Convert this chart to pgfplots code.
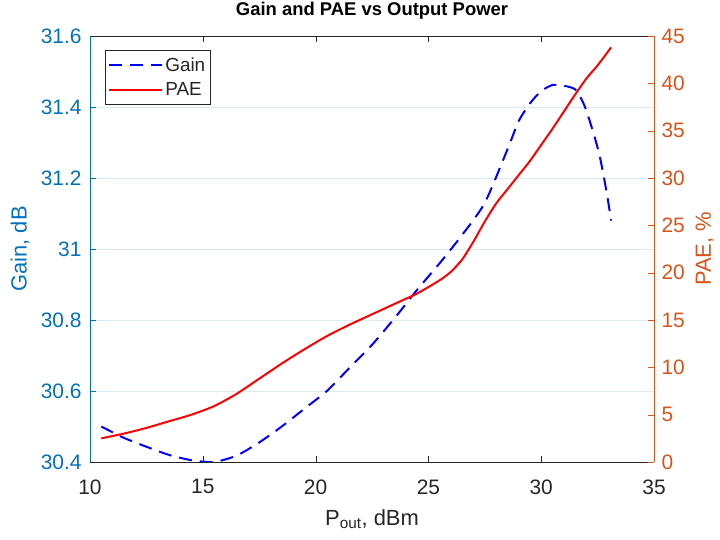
\documentclass[border=0pt]{standalone}
\usepackage{pgfplots}
\pgfplotsset{compat=1.18}
\usepackage{fontspec}
\setmainfont{Liberation Sans}
\definecolor{mblue}{RGB}{0,114,189}
\definecolor{morange}{RGB}{217,83,25}
\definecolor{mgray}{RGB}{38,38,38}
\definecolor{gridgray}{RGB}{220,220,220}
\definecolor{gridblue}{RGB}{218,234,246}

\pgfplotstableread{
x g
10.5 30.50
11.5 30.468
12.5 30.443
13.5 30.42
14.5 30.405
15.5 30.400
16.5 30.418
17.5 30.455
18.5 30.50
19.5 30.55
20.5 30.60
21.5 30.665
22.5 30.73
23.5 30.805
24.5 30.885
25.5 30.96
26.5 31.04
27.5 31.13
28.5 31.28
29.0 31.36
29.5 31.41
30.0 31.445
30.5 31.462
31.0 31.460
31.5 31.450
31.8 31.42
32.0 31.39
32.3 31.33
32.6 31.26
32.9 31.16
33.1 31.08
}\gaindata

\pgfplotstableread{
x p
10.5 2.5
11.5 3.0
12.5 3.6
13.5 4.3
14.5 5.0
15.5 5.9
16.5 7.2
17.5 8.8
18.5 10.4
19.5 11.9
20.5 13.3
21.5 14.5
22.5 15.6
23.5 16.7
24.5 17.8
25.5 19.2
26.0 20.1
26.5 21.4
27.0 23.3
27.5 25.4
28.0 27.3
28.5 28.8
29.0 30.3
29.5 31.8
30.0 33.5
30.5 35.2
31.0 37.0
31.5 38.8
32.0 40.5
32.5 41.9
33.1 43.8
}\paedata

\begin{document}
\begin{tikzpicture}
\pgfplotsset{
  common/.style={
    scale only axis, width=564bp, height=426bp,
    xmin=10, xmax=35,
    xtick={10,15,...,35},
    tick align=inside,
    major tick length=6bp,
    /pgf/number format/assume math mode=true,
    ticklabel style={font=\fontsize{21}{24}\selectfont},
    label style={font=\fontsize{22}{26}\selectfont},
  }
}
\begin{axis}[common, name=ax,
  ymin=30.4, ymax=31.6,
  ytick={30.4,30.6,...,31.61},
  axis y line*=left,
  x axis line style={mgray},
  y axis line style={mblue, line width=0.8pt},
  axis line style={line width=0.8pt},
  xtick pos=both,
  x tick style={mgray},
  y tick style={mblue},
  x tick label style={mgray, yshift=-14bp},
  y tick label style={mblue, /pgf/number format/fixed, xshift=-5bp},
  ymajorgrids, grid style={gridblue, line width=0.8pt},
  xlabel={P\textsubscript{out}, dBm},
  xlabel style={mgray, at={(axis description cs:0.5,-0.148)}, anchor=base},
  ylabel={Gain, dB},
  ylabel style={mblue, at={(axis description cs:-0.124,0.5)}, anchor=center},
  title={Gain and PAE vs Output Power},
  title style={font=\bfseries\fontsize{18.5}{20}\selectfont, at={(axis description cs:0.5,1.034)}, anchor=base},
  legend style={at={(axis description cs:0.0266,0.967)}, anchor=north west,
    draw=mgray, line width=0.6pt, font=\fontsize{19}{22}\selectfont, text=mgray,
    inner xsep=3bp, inner ysep=5bp, row sep=6bp, cells={anchor=west}},
  legend image code/.code={\draw[#1] (0bp,0bp) -- (53bp,0bp);},
]
\addplot[blue, line width=2pt, dash pattern=on 13bp off 8bp, smooth, tension=0.4] table[x=x,y=g] {\gaindata};
\addlegendentry{Gain}
\addlegendimage{red, line width=2pt}
\addlegendentry{PAE}
\end{axis}
\begin{axis}[common,
  ymin=0, ymax=45,
  ytick={0,5,...,45},
  axis y line*=right,
  axis x line=none,
  y axis line style={morange, line width=0.8pt},
  y tick style={morange},
  y tick label style={morange, xshift=4bp},
  xmajorgrids, grid style={gridgray, line width=0.8pt},
  ylabel={PAE, \%},
  ylabel style={morange, at={(axis description cs:1.090,0.5)}, anchor=center, rotate=0},
]
\addplot[red, line width=2pt, smooth, tension=0.4] table[x=x,y=p] {\paedata};
\end{axis}
\pgfresetboundingbox
\path (ax.south west) ++(-90bp,-78bp) coordinate (bl);
\path (ax.north east) ++(66bp,36bp) coordinate (tr);
\path (bl) rectangle (tr);
\end{tikzpicture}
\end{document}
